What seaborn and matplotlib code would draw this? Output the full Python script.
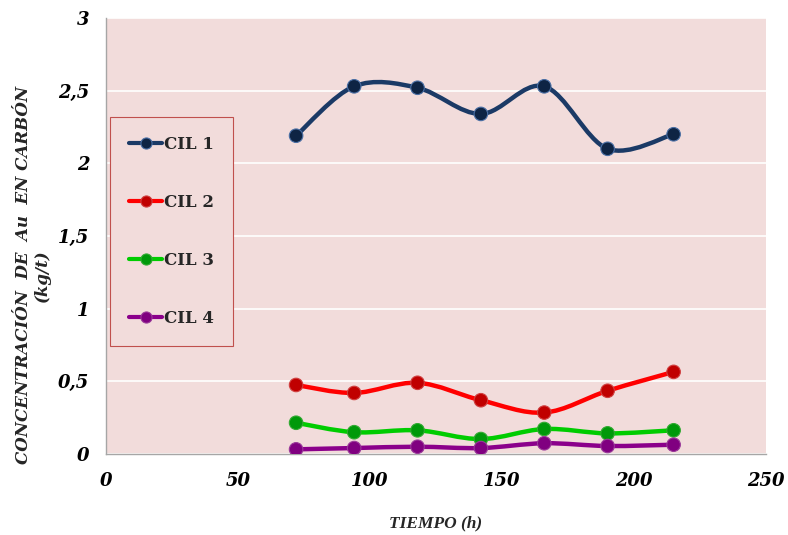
import numpy as np
import pandas as pd
import seaborn as sns
import matplotlib
matplotlib.use("Agg")
import matplotlib.pyplot as plt
from matplotlib.path import Path
from matplotlib.patches import PathPatch
from matplotlib.lines import Line2D

# ---- data ----
tiempo = [72, 94, 118, 142, 166, 190, 215]
cil1 = [2.19, 2.53, 2.52, 2.34, 2.53, 2.10, 2.20]
cil2 = [0.475, 0.42, 0.49, 0.37, 0.285, 0.435, 0.565]
cil3 = [0.215, 0.15, 0.163, 0.103, 0.172, 0.142, 0.163]
cil4 = [0.032, 0.041, 0.05, 0.041, 0.074, 0.055, 0.064]
series_names = ["CIL 1", "CIL 2", "CIL 3", "CIL 4"]
x_ticks = [0, 50, 100, 150, 200, 250]
y_ticks = [0, 0.5, 1, 1.5, 2, 2.5, 3]
y_tick_labels = ["0", "0,5", "1", "1,5", "2", "2,5", "3"]

line_colors = ["#1B3A66", "#FF0000", "#00CC00", "#8B008B"]
marker_colors = ["#0E2444", "#C00000", "#00990A", "#800080"]
marker_edges = ["#4A6FA5", "#D04040", "#33AA33", "#9A3A9A"]

df = pd.concat([
    pd.DataFrame({"t": tiempo, "c": vals, "serie": name})
    for name, vals in zip(series_names, [cil1, cil2, cil3, cil4])
], ignore_index=True)

sns.set_theme(style="white")
plt.rcParams["font.family"] = ["DejaVu Serif"]

fig = plt.figure(figsize=(7.88, 5.35), dpi=100)
ax = fig.add_axes([106/788, 1-454/535, 660/788, 436/535])
ax.set_facecolor("#F2DCDB")
fig.patch.set_facecolor("white")


def smooth_path(xs, ys):
    pts = np.column_stack([xs, ys]).astype(float)
    n = len(pts)
    verts = [pts[0]]
    codes = [Path.MOVETO]
    for i in range(n - 1):
        p0 = pts[i - 1] if i > 0 else pts[i]
        p1 = pts[i]
        p2 = pts[i + 1]
        p3 = pts[i + 2] if i + 2 < n else pts[i + 1]
        c1 = p1 + (p2 - p0) / 6.0
        c2 = p2 - (p3 - p1) / 6.0
        verts += [c1, c2, p2]
        codes += [Path.CURVE4] * 3
    return Path(verts, codes)


for name, lc in zip(series_names, line_colors):
    sub = df[df.serie == name]
    patch = PathPatch(smooth_path(sub.t.values, sub.c.values), facecolor="none",
                      edgecolor=lc, lw=3.2, capstyle="round", joinstyle="round", zorder=3)
    ax.add_patch(patch)

sns.scatterplot(data=df, x="t", y="c", hue="serie", palette=dict(zip(series_names, marker_colors)),
                s=95, edgecolor=None, linewidth=0, ax=ax, legend=False, zorder=4)
for coll in ax.collections:
    coll.set_edgecolors([marker_edges[series_names.index(n)] for n in df.serie])
    coll.set_linewidth(0.8)

ax.set_xlim(0, 250)
ax.set_ylim(0, 3)
ax.set_xticks(x_ticks)
ax.set_yticks(y_ticks)
ax.set_yticklabels(y_tick_labels)
ax.grid(axis="y", color="white", lw=1.2)
ax.grid(axis="x", visible=False)
ax.set_axisbelow(True)

for s in ["top", "right"]:
    ax.spines[s].set_visible(False)
for s in ["left", "bottom"]:
    ax.spines[s].set_color("#A6A6A6")
    ax.spines[s].set_linewidth(1.0)

ax.tick_params(axis="x", direction="out", length=5, color="#A6A6A6", width=1, pad=8)
ax.tick_params(axis="y", direction="out", length=5, color="#A6A6A6", width=1, pad=7)
for lab in ax.get_xticklabels() + ax.get_yticklabels():
    lab.set_fontsize(13)
    lab.set_fontweight("bold")
    lab.set_fontstyle("italic")
    lab.set_color("black")

ax.set_xlabel("TIEMPO (h)", fontsize=12.5, fontweight="bold", fontstyle="italic",
              family="Liberation Serif")
ax.xaxis.set_label_coords(0.5, -0.141)
ax.set_ylabel("CONCENTRACIÓN  DE  Au  EN CARBÓN\n(kg/t)", fontsize=12,
              fontweight="bold", fontstyle="italic", family="DejaVu Serif",
              linespacing=1.2)
ax.yaxis.set_label_coords(-0.083, 0.41)

handles = [Line2D([], [], color=lc, lw=3, marker="o", markersize=8,
                  markerfacecolor=mc, markeredgecolor=me, markeredgewidth=0.8)
           for lc, mc, me in zip(line_colors, marker_colors, marker_edges)]
leg = ax.legend(handles, series_names, loc="upper left", bbox_to_anchor=(0.006, 0.773),
                frameon=True, fancybox=False, facecolor="#F2DCDB", edgecolor="#C0504D",
                labelspacing=2.45, borderpad=1.15, handlelength=2.0, handletextpad=0.1,
                borderaxespad=0,
                prop={"family": "DejaVu Serif", "weight": "bold", "size": 12})
leg.get_frame().set_linewidth(0.8)
leg.get_frame().set_alpha(1)

fig.savefig("out.png", dpi=100)
